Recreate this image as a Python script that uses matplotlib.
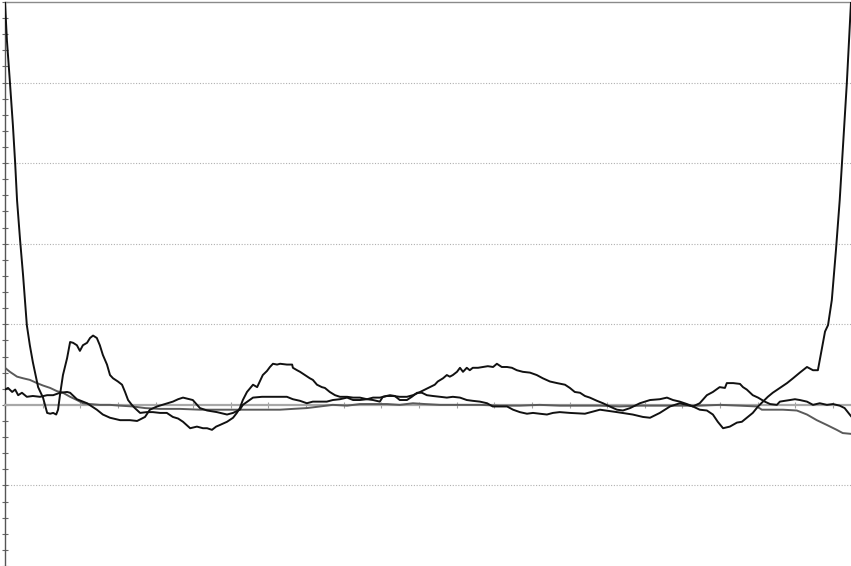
import matplotlib
matplotlib.use("Agg")
import matplotlib.pyplot as plt
from matplotlib.ticker import MultipleLocator, NullFormatter

# ---- data (x in sample index units, y in value units) ----
u_x = [0, 0.5, 1.3, 2.1, 2.7, 3.2, 4.0, 4.8, 5.8, 6.6,
       7.4, 8.8, 10.1, 11.2, 12.0, 12.8, 13.6, 14.1, 14.6, 15.4,
       16.5, 17.3, 18.1, 19.1, 19.9, 20.7, 21.8, 22.6, 23.4, 24.4,
       25.2, 26.0, 27.1, 27.9, 28.7, 30.0, 31.1, 31.9, 32.7, 33.7,
       34.5, 35.9, 37.7, 39.3, 41.2, 43.0, 44.6, 46.0, 47.3, 49.2,
       51.0, 52.6, 53.7, 55.0, 56.1, 57.1, 59.0, 60.6, 61.6, 62.4,
       63.2, 64.3, 65.9, 67.0, 68.5, 69.6, 70.4, 71.2, 72.3, 73.1,
       74.9, 76.3, 76.5, 77.6, 78.4, 79.7, 81.0, 81.8, 82.9, 84.2,
       85.0, 86.3, 87.7, 89.0, 90.9, 92.5, 94.3, 96.2, 97.8, 99.6,
       101.5, 103.1, 104.9, 106.8, 108.4, 110.3, 111.6, 112.9, 114.2, 115.0,
       116.4, 117.4, 118.2, 119.0, 120.1, 120.9, 121.7, 122.7, 123.5, 124.3,
       125.7, 127.0, 128.3, 129.7, 130.7, 132.0, 133.4, 134.7, 136.0, 137.6,
       139.5, 141.3, 142.9, 144.8, 146.7, 148.8, 150.1, 151.4, 152.8, 154.1,
       155.4, 157.3, 158.9, 160.7, 162.6, 164.2, 166.1, 168.7, 171.4, 174.0,
       175.9, 177.5, 179.3, 181.2, 182.8, 184.6, 186.5, 188.1, 189.4, 190.8,
       192.6, 194.5, 195.8, 197.1, 198.7, 200.1, 201.4, 202.7, 204.0, 205.9,
       207.8, 209.4, 211.2, 213.1, 214.7, 216.0, 217.1, 217.9, 218.7, 219.7,
       220.8, 221.8, 222.6, 223.7, 224.8]
u_y = [5.0, 4.53, 4.01, 3.47, 3.0, 2.54, 2.05, 1.61, 0.99, 0.74,
       0.53, 0.22, 0.09, -0.10, -0.11, -0.10, -0.12, -0.06, 0.12, 0.37,
       0.58, 0.78, 0.77, 0.74, 0.67, 0.74, 0.77, 0.83, 0.86, 0.83,
       0.74, 0.62, 0.50, 0.37, 0.33, 0.29, 0.25, 0.16, 0.06, 0.0,
       -0.04, -0.10, -0.09, -0.09, -0.10, -0.10, -0.15, -0.17, -0.21, -0.29,
       -0.27, -0.29, -0.29, -0.31, -0.27, -0.25, -0.21, -0.16, -0.10, -0.04,
       0.06, 0.16, 0.25, 0.22, 0.37, 0.42, 0.47, 0.51, 0.50, 0.51,
       0.50, 0.50, 0.46, 0.43, 0.41, 0.37, 0.33, 0.31, 0.25, 0.22,
       0.21, 0.16, 0.12, 0.10, 0.10, 0.09, 0.09, 0.07, 0.09, 0.09,
       0.11, 0.11, 0.10, 0.10, 0.12, 0.16, 0.19, 0.22, 0.25, 0.29,
       0.33, 0.37, 0.35, 0.37, 0.41, 0.46, 0.41, 0.46, 0.43, 0.46,
       0.46, 0.47, 0.48, 0.47, 0.51, 0.47, 0.47, 0.46, 0.43, 0.41,
       0.40, 0.37, 0.33, 0.29, 0.27, 0.25, 0.21, 0.16, 0.15, 0.11,
       0.09, 0.05, 0.02, -0.02, -0.06, -0.07, -0.04, 0.02, 0.06, 0.07,
       0.09, 0.06, 0.04, 0.01, -0.02, -0.06, -0.07, -0.12, -0.21, -0.29,
       -0.27, -0.22, -0.21, -0.16, -0.10, -0.02, 0.04, 0.10, 0.15, 0.21,
       0.27, 0.33, 0.40, 0.47, 0.43, 0.43, 0.71, 0.91, 0.99, 1.30,
       1.92, 2.54, 3.16, 4.00, 5.0]

e_x = [0, 0.8, 1.9, 2.7, 3.5, 4.5, 5.8, 7.4, 9.3, 11.2,
       12.8, 14.6, 16.5, 17.3, 19.1, 21.8, 24.4, 26.0, 27.9, 30.6,
       33.2, 35.1, 37.2, 38.5, 40.4, 42.5, 44.6, 46.0, 47.3, 49.9,
       51.8, 53.7, 56.3, 59.0, 60.6, 62.4, 63.2, 65.9, 68.3, 70.4,
       73.1, 74.9, 76.5, 78.4, 80.2, 81.8, 83.7, 85.5, 87.1, 89.0,
       90.9, 92.5, 94.3, 96.2, 97.8, 99.6, 100.4, 102.3, 103.6, 104.9,
       106.8, 108.1, 109.5, 110.8, 112.1, 113.7, 115.6, 117.4, 119.0, 120.9,
       122.7, 124.3, 126.2, 128.1, 129.6, 131.5, 133.4, 135.0, 136.8, 138.7,
       140.3, 142.1, 144.0, 145.6, 147.4, 150.1, 154.1, 158.1, 162.6, 166.8,
       169.5, 171.4, 174.0, 176.7, 179.3, 181.2, 182.8, 184.6, 186.5, 188.1,
       189.9, 191.3, 191.8, 193.5, 195.3, 196.1, 197.1, 198.7, 200.1, 201.9,
       203.3, 205.1, 205.9, 207.2, 208.6, 209.9, 211.2, 213.1, 214.7, 216.5,
       218.4, 220.0, 221.8, 223.1, 224.8]
e_y = [0.19, 0.21, 0.16, 0.19, 0.12, 0.15, 0.10, 0.11, 0.10, 0.12,
       0.12, 0.15, 0.16, 0.15, 0.07, 0.02, -0.06, -0.12, -0.16, -0.19,
       -0.19, -0.20, -0.15, -0.06, -0.02, 0.01, 0.04, 0.07, 0.09, 0.06,
       -0.04, -0.07, -0.09, -0.12, -0.10, -0.06, 0.0, 0.09, 0.10, 0.10,
       0.10, 0.10, 0.07, 0.05, 0.02, 0.04, 0.04, 0.04, 0.06, 0.07,
       0.09, 0.06, 0.06, 0.07, 0.06, 0.04, 0.10, 0.12, 0.11, 0.06,
       0.06, 0.10, 0.15, 0.15, 0.12, 0.11, 0.10, 0.09, 0.10, 0.09,
       0.06, 0.05, 0.04, 0.02, -0.02, -0.02, -0.02, -0.06, -0.09, -0.11,
       -0.10, -0.11, -0.12, -0.10, -0.09, -0.10, -0.11, -0.06, -0.09, -0.12,
       -0.15, -0.16, -0.10, -0.02, 0.02, 0.0, -0.02, 0.02, 0.12, 0.16,
       0.22, 0.21, 0.27, 0.27, 0.26, 0.22, 0.19, 0.12, 0.09, 0.04,
       0.01, 0.0, 0.04, 0.05, 0.06, 0.07, 0.06, 0.04, 0.0, 0.02,
       0.0, 0.01, -0.01, -0.04, -0.14]

g_x = [0, 1.3, 3.2, 4.8, 6.6, 8.5, 10.1, 12.0, 13.8, 15.4,
       17.3, 19.1, 20.7, 22.6, 25.2, 27.9, 30.6, 34.0, 37.2, 41.2,
       46.5, 51.8, 57.1, 62.4, 67.7, 73.1, 76.5, 80.2, 83.7, 87.1,
       90.9, 94.3, 97.8, 101.5, 104.9, 108.4, 111.6, 115.6, 120.9, 126.2,
       131.5, 136.8, 142.1, 147.4, 152.8, 158.1, 163.4, 168.7, 174.0, 179.3,
       184.6, 190.0, 195.3, 199.8, 201.1, 206.7, 210.4, 213.1, 215.7, 218.4,
       221.0, 222.6, 224.8]
g_y = [0.46, 0.41, 0.35, 0.33, 0.31, 0.27, 0.24, 0.21, 0.17, 0.15,
       0.10, 0.06, 0.02, 0.01, 0.0, 0.0, -0.01, -0.02, -0.04, -0.05,
       -0.05, -0.06, -0.06, -0.06, -0.06, -0.06, -0.05, -0.04, -0.02, 0.0,
       -0.01, 0.01, 0.01, 0.01, 0.0, 0.02, 0.01, 0.0, 0.0, 0.0,
       -0.01, -0.01, 0.0, -0.01, -0.01, -0.01, -0.02, -0.01, -0.01, -0.01,
       -0.01, 0.0, -0.01, -0.02, -0.06, -0.06, -0.07, -0.12, -0.19, -0.25,
       -0.31, -0.35, -0.36]

X_MAX = 224.8
Y_MIN, Y_MAX = -2, 5

fig = plt.figure(figsize=(8.51, 5.66), dpi=100)
ax = fig.add_axes([5 / 851, 0, 846 / 851, 564 / 566])

ax.plot(g_x, g_y, color="#5a5a5a", lw=1.4, zorder=3)
ax.plot(e_x, e_y, color="#111111", lw=1.4, zorder=4)
ax.plot(u_x, u_y, color="#111111", lw=1.4, zorder=5)

ax.set_xlim(0, X_MAX)
ax.set_ylim(Y_MIN, Y_MAX)

for yv in [-1, 1, 2, 3, 4]:
    ax.axhline(yv, color="#b0b0b0", lw=0.8, ls=(0, (1, 1.5)), zorder=1)

ax.spines["right"].set_visible(False)
ax.spines["top"].set_color("#8a8a8a")
ax.spines["top"].set_linewidth(1.0)
ax.spines["left"].set_color("#555555")
ax.spines["left"].set_linewidth(1.0)
ax.spines["bottom"].set_position(("data", 0))
ax.spines["bottom"].set_color("#a8a8a8")
ax.spines["bottom"].set_linewidth(1.6)

ax.yaxis.set_major_locator(MultipleLocator(1))
ax.yaxis.set_minor_locator(MultipleLocator(0.2))
ax.xaxis.set_major_locator(MultipleLocator(10))
ax.xaxis.set_major_formatter(NullFormatter())
ax.yaxis.set_major_formatter(NullFormatter())
ax.tick_params(axis="y", which="both", direction="inout", length=4.5,
               color="#666666", width=0.8)
ax.tick_params(axis="x", which="major", direction="inout", length=4.5,
               color="#a0a0a0", width=0.8)

fig.savefig("out.png", dpi=100)
